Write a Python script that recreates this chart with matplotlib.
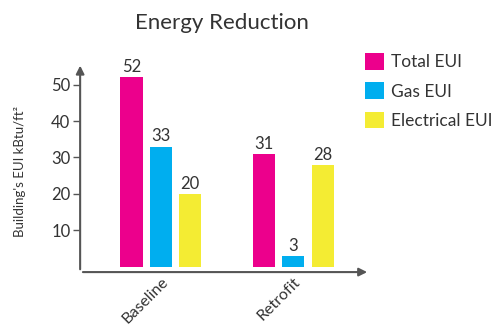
import matplotlib.pyplot as plt
import numpy as np

categories = ["Baseline", "Retrofit"]
series_names = ["Total EUI", "Gas EUI", "Electrical EUI"]
total_eui = [52, 31]
gas_eui = [33, 3]
elec_eui = [20, 28]
yticks = [10, 20, 30, 40, 50]

colors = ["#EC008C", "#00AEEF", "#F4EC33"]
plt.rcParams['font.family'] = ['Lato', 'DejaVu Sans']

fig = plt.figure(figsize=(5.04, 3.29), dpi=100)
ax = fig.add_axes([0.159, 0.173, 0.575, 0.636])

x = np.arange(len(categories))
width = 0.167
step = 0.222
for i, (vals, name, c) in enumerate(zip([total_eui, gas_eui, elec_eui], series_names, colors)):
    bars = ax.bar(x + (i - 1) * step, vals, width, color=c, label=name)
    for b, v in zip(bars, vals):
        ax.text(b.get_x() + b.get_width() / 2, v + 0.6, str(v), ha='center', va='bottom',
                fontsize=12, color='#333333')

ax.set_xlim(-0.61, 1.58)
ax.set_ylim(-1.5, 56)
for s in ax.spines.values():
    s.set_visible(False)

# axes with arrow heads
ax.annotate('', xy=(0, 1), xytext=(0, 0), xycoords='axes fraction',
            arrowprops=dict(arrowstyle='-|>', color='#555555', lw=1.5, mutation_scale=12))
ax.annotate('', xy=(1, 0), xytext=(0, 0), xycoords='axes fraction',
            arrowprops=dict(arrowstyle='-|>', color='#555555', lw=1.5, mutation_scale=12))

ax.set_yticks(yticks)
ax.set_yticklabels([str(t) for t in yticks], fontsize=12, color='#333333')
ax.tick_params(axis='y', length=5, width=1, color='#555555', pad=2)
ax.set_xticks(x)
ax.set_xticklabels(categories, rotation=45, ha='right', rotation_mode='anchor',
                   fontsize=11.5, color='#333333')
ax.tick_params(axis='x', length=0, pad=2)

fig.text(0.04, 0.48, "Building's EUI kBtu/ft²", rotation=90, ha='center', va='center',
         fontsize=9.5, color='#333333')
fig.text(0.44, 0.93, "Energy Reduction", ha='center', va='center', fontsize=16, color='#333333')

fig.legend(loc='upper left', bbox_to_anchor=(0.71, 0.86), frameon=False, fontsize=12.5,
           handlelength=1.1, handleheight=1.1, labelspacing=0.7, handletextpad=0.4,
           labelcolor='#333333', borderaxespad=0)

fig.savefig("out.png", dpi=100)
